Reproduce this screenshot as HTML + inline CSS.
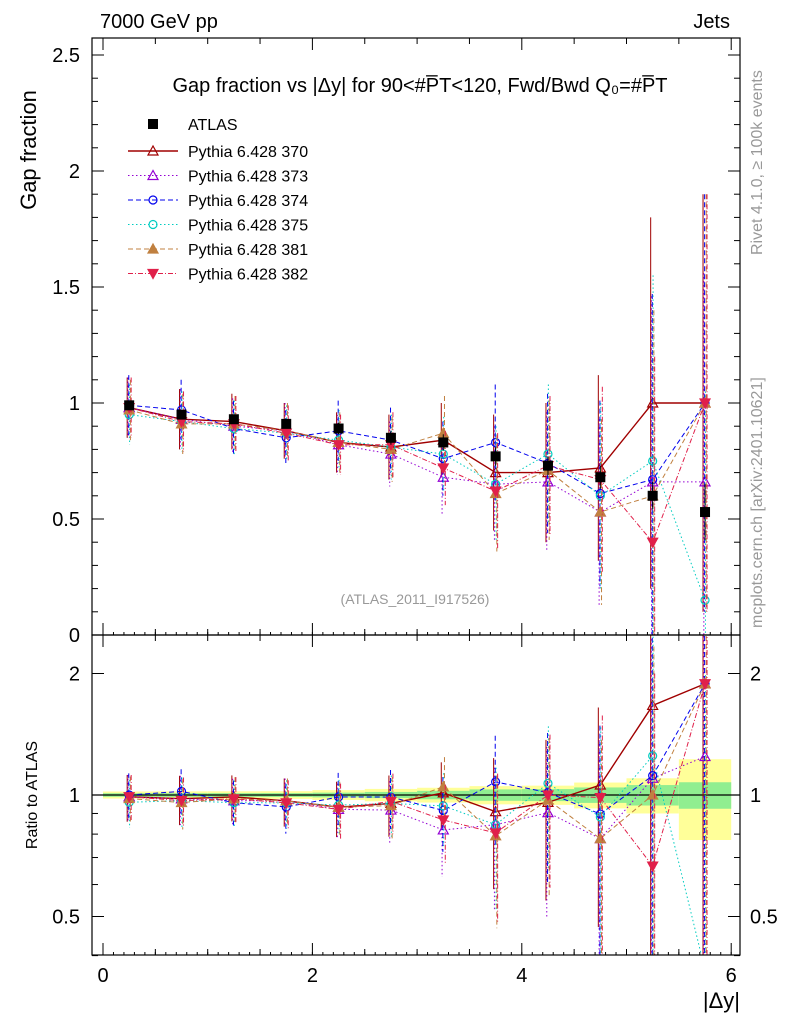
<!DOCTYPE html>
<html><head><meta charset="utf-8"><style>
body{margin:0;background:#fff;}
svg{display:block;font-family:"Liberation Sans",sans-serif;}
</style></head><body>
<svg id="c" width="786" height="1024"></svg>
<script>
const xCenters=[0.25,0.75,1.25,1.75,2.25,2.75,3.25,3.75,4.25,4.75,5.25,5.75];
const atlasVals=[0.99,0.95,0.93,0.91,0.89,0.85,0.83,0.77,0.73,0.68,0.60,0.53];
const atlasErr=[0.02,0.02,0.02,0.02,0.025,0.03,0.035,0.04,0.04,0.05,0.06,0.12];
const atlasStat=[0.01,0.01,0.01,0.01,0.012,0.015,0.02,0.025,0.025,0.03,0.035,0.04];
const m370=[0.98,0.93,0.92,0.88,0.83,0.81,0.84,0.70,0.70,0.72,1.0,1.0];
const m373=[0.98,0.93,0.90,0.88,0.82,0.78,0.68,0.65,0.66,0.53,0.66,0.66];
const m374=[0.99,0.97,0.89,0.85,0.88,0.84,0.76,0.83,0.74,0.61,0.67,1.0];
const m375=[0.95,0.92,0.89,0.87,0.84,0.81,0.78,0.65,0.78,0.60,0.75,0.15];
const m381=[0.97,0.91,0.91,0.88,0.83,0.80,0.87,0.61,0.71,0.53,0.60,1.0];
const m382=[0.98,0.92,0.91,0.87,0.82,0.82,0.72,0.62,0.73,0.67,0.40,1.0];
const modelErr=[0.13,0.13,0.12,0.12,0.13,0.14,0.16,0.25,0.3,0.4,0.8,0.9];
const xTicks=[0,2,4,6];
const yTicks=[0.5,1,1.5,2,2.5];
const rTicks=[0.5,1,2];

const svg=document.getElementById('c');const NS='http://www.w3.org/2000/svg';
function el(t,a,p){const e=document.createElementNS(NS,t);for(const k in a)e.setAttribute(k,a[k]);(p||svg).appendChild(e);return e;}
const X=v=>103+v*104.7;
const Y=v=>635-v*232;
const R=v=>795-Math.log2(v)*121.5;
const L=92,Rr=740,T=38,M=635,B=955;
function clipR(v){return Math.max(620,Math.min(970,v));}

const defs=el('defs',{});
const cp1=el('clipPath',{id:'cTop'},defs);el('rect',{x:L,y:T,width:Rr-L,height:M-T},cp1);
const cp2=el('clipPath',{id:'cBot'},defs);el('rect',{x:L,y:M,width:Rr-L,height:B-M},cp2);
const gTop=el('g',{'clip-path':'url(#cTop)'});
const gBot=el('g',{'clip-path':'url(#cBot)'});

xCenters.forEach((c,i)=>{
 const r=el('rect',{x:X(c-0.25),width:X(0.5)-X(0),y:R(1+atlasErr[i]/atlasVals[i]),height:R(1-atlasErr[i]/atlasVals[i])-R(1+atlasErr[i]/atlasVals[i]),fill:'#ffff99'},gBot);
 
 
 const g=el('rect',{x:X(c-0.25),width:X(0.5)-X(0),y:R(1+atlasStat[i]/atlasVals[i]),height:R(1-atlasStat[i]/atlasVals[i])-R(1+atlasStat[i]/atlasVals[i]),fill:'#90ee90'},gBot);
 
 
});
el('line',{x1:L,x2:Rr,y1:R(1),y2:R(1),stroke:'#000','stroke-width':1.2},gBot);

const models=[
 {n:'Pythia 6.428 370',v:m370,c:'#a00000',d:'',m:'tri',f:'none',w:1.4},
 {n:'Pythia 6.428 373',v:m373,c:'#9400d3',d:'1.5,2.5',m:'tri',f:'none',w:1},
 {n:'Pythia 6.428 374',v:m374,c:'#0000ee',d:'5,3',m:'circ',f:'none',w:1},
 {n:'Pythia 6.428 375',v:m375,c:'#00ccc0',d:'1.5,2.5',m:'circ',f:'none',w:1},
 {n:'Pythia 6.428 381',v:m381,c:'#c08040',d:'5,3',m:'tri',f:'#c08040',w:1},
 {n:'Pythia 6.428 382',v:m382,c:'#e0204a',d:'5,2,1,2',m:'tridown',f:'#e0204a',w:1}
];
function marker(g,t,x,y,c,f,s){
 if(t==='tri')return el('polygon',{points:`${x},${y-s} ${x-s},${y+s*0.8} ${x+s},${y+s*0.8}`,fill:f,stroke:c,'stroke-width':1.2},g);
 if(t==='tridown')return el('polygon',{points:`${x},${y+s} ${x-s},${y-s*0.8} ${x+s},${y-s*0.8}`,fill:f,stroke:c,'stroke-width':1.2},g);
 if(t==='circ')return el('circle',{cx:x,cy:y,r:s*0.8,fill:'#fff','fill-opacity':f==='none'?0:1,stroke:c,'stroke-width':1.2},g);
 return el('rect',{x:x-s,y:y-s,width:2*s,height:2*s,fill:c},g);
}
models.forEach((mo,k)=>{
 const pts=xCenters.map((c,i)=>X(c)+','+Y(mo.v[i])).join(' ');
 const pl=el('polyline',{points:pts,fill:'none',stroke:mo.c,'stroke-width':mo.w,'stroke-dasharray':mo.d},gTop);
 
 
 const rp=xCenters.map((c,i)=>X(c)+','+clipR(R(mo.v[i]/atlasVals[i]))).join(' ');
 const rl=el('polyline',{points:rp,fill:'none',stroke:mo.c,'stroke-width':mo.w,'stroke-dasharray':mo.d},gBot);
 
 
 xCenters.forEach((c,i)=>{
  const x=X(c)+(k-2.5)*0.8,v=mo.v[i],e=modelErr[i];
  el('line',{x1:x,x2:x,y1:Y(v+e),y2:Y(Math.max(v-e,0)),stroke:mo.c,'stroke-width':1,'stroke-dasharray':mo.d},gTop);
  const rv=v/atlasVals[i],re=e/atlasVals[i];
  el('line',{x1:x,x2:x,y1:clipR(R(rv+re)),y2:clipR(R(Math.max(rv-re,0.01))),stroke:mo.c,'stroke-width':1,'stroke-dasharray':mo.d},gBot);
  const mk=marker(gTop,mo.m,X(c),Y(v),mo.c,mo.f,5);
  
  
  marker(gBot,mo.m,X(c),R(rv),mo.c,mo.f,5);
 });
});
xCenters.forEach((c,i)=>{
 el('line',{x1:X(c),x2:X(c),y1:Y(atlasVals[i]+atlasErr[i]),y2:Y(atlasVals[i]-atlasErr[i]),stroke:'#000'},gTop);
 const p=marker(gTop,'sq',X(c),Y(atlasVals[i]),'#000','#000',5);
 
 
});

el('rect',{x:L,y:T,width:Rr-L,height:M-T,fill:'none',stroke:'#000','stroke-width':1.2});
el('rect',{x:L,y:M,width:Rr-L,height:B-M,fill:'none',stroke:'#000','stroke-width':1.2});
function txt(s,a,name){const t=el('text',a);t.textContent=s;return t;}
for(let v=0;v<=6.01;v+=0.5){const maj=Math.abs(v-Math.round(v/2)*2)<0.01;const l=maj?12:6;
 [T,M].forEach(y0=>{el('line',{x1:X(v),x2:X(v),y1:y0,y2:y0+l,stroke:'#000'});});
 [M,B].forEach(y0=>{el('line',{x1:X(v),x2:X(v),y1:y0,y2:y0-l,stroke:'#000'});});}
for(let v=0.1;v<=6;v+=0.1){[M,B].forEach(y0=>el('line',{x1:X(v),x2:X(v),y1:y0,y2:y0-3,stroke:'#000'}));}
xTicks.forEach(v=>txt(String(v),{x:X(v),y:982,'font-size':20,'text-anchor':'middle'},'x-tick-label'));
for(let v=0;v<=2.6;v+=0.1){const maj=Math.abs(v*2-Math.round(v*2))<0.01;const l=maj?12:6;
 el('line',{x1:L,x2:L+l,y1:Y(v),y2:Y(v),stroke:'#000'});el('line',{x1:Rr,x2:Rr-l,y1:Y(v),y2:Y(v),stroke:'#000'});}
txt('0',{x:80,y:642,'font-size':20,'text-anchor':'end'},'y-tick-label');
yTicks.forEach(v=>txt(String(v),{x:80,y:Y(v)+7,'font-size':20,'text-anchor':'end'},'y-tick-label'));
[0.4,0.5,0.6,0.7,0.8,0.9,1,2].forEach(v=>{const l=(v===0.5||v===1||v===2)?12:6;
 el('line',{x1:L,x2:L+l,y1:R(v),y2:R(v),stroke:'#000'});el('line',{x1:Rr,x2:Rr-l,y1:R(v),y2:R(v),stroke:'#000'});});
rTicks.forEach(v=>{txt(String(v),{x:80,y:R(v)+7,'font-size':20,'text-anchor':'end'},'ratio-tick-label');
 txt(String(v),{x:750,y:R(v)+7,'font-size':20},'ratio-tick-label-right');});
txt('7000 GeV pp',{x:100,y:28,'font-size':20},'beam-label');
txt('Jets',{x:730,y:28,'font-size':20,'text-anchor':'end'},'process-label');
txt('Gap fraction',{x:0,y:0,'font-size':22,transform:'translate(36,150) rotate(-90)','text-anchor':'middle'},'y-axis-title');
txt('Ratio to ATLAS',{x:0,y:0,'font-size':16,transform:'translate(37,795) rotate(-90)','text-anchor':'middle'},'ratio-axis-title');
txt('|Δy|',{x:740,y:1008,'font-size':22,'text-anchor':'end'},'x-axis-title');
txt('Gap fraction vs |Δy| for 90<#P̅T<120, Fwd/Bwd Q₀=#P̅T',{x:420,y:92,'font-size':20,'text-anchor':'middle'},'plot-title');
txt('(ATLAS_2011_I917526)',{x:415,y:604,'font-size':14,fill:'#999','text-anchor':'middle'},'analysis-id');
txt('Rivet 4.1.0, ≥ 100k events',{x:0,y:0,'font-size':16,fill:'#999',transform:'translate(762,255) rotate(-90)'},'rivet-label');
txt('mcplots.cern.ch [arXiv:2401.10621]',{x:0,y:0,'font-size':16,fill:'#999',transform:'translate(762,628) rotate(-90)'},'mcplots-label');
const lg=el('g',{});
marker(lg,'sq',153,124,'#000','#000',5);
txt('ATLAS',{x:188,y:130,'font-size':16},'legend-entry');
models.forEach((mo,k)=>{const y=151+k*24.5;
 el('line',{x1:128,x2:178,y1:y,y2:y,stroke:mo.c,'stroke-width':mo.w,'stroke-dasharray':mo.d},lg);
 marker(lg,mo.m,153,y,mo.c,mo.f,5);
 txt(mo.n,{x:188,y:y+6,'font-size':16},'legend-entry');});
</script>
</body></html>
